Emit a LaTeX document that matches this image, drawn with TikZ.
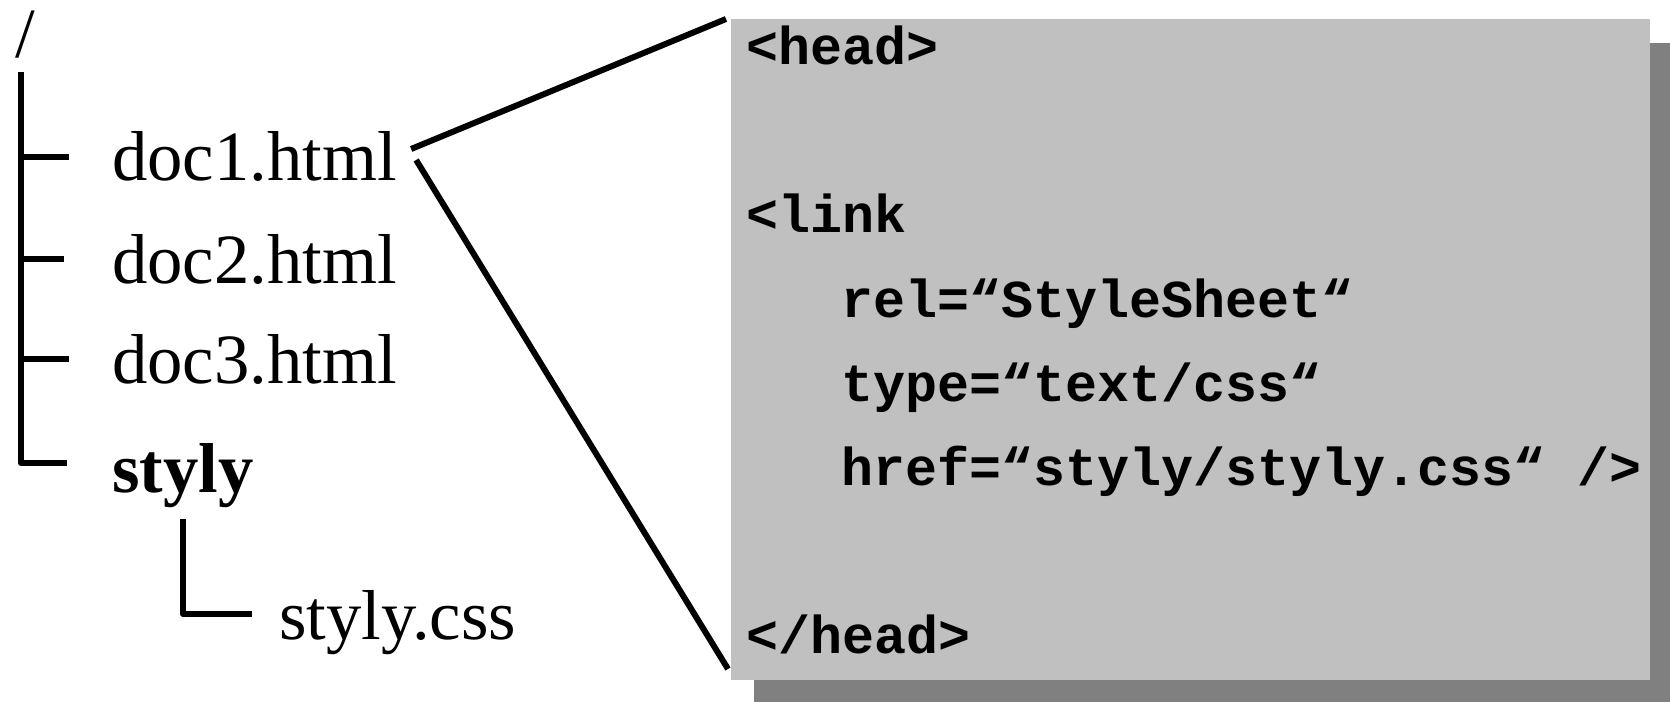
\documentclass[tikz,border=0pt]{standalone}
\usepackage{fontspec}
\setmainfont{Liberation Serif}
\setmonofont{Liberation Mono}
\usepackage{tikz}

\definecolor{boxgray}{RGB}{192,192,192}
\definecolor{shadowgray}{RGB}{128,128,128}
\tikzset{
  treeline/.style={line width=4.5pt, line join=round},
  fanline/.style={line width=4.5pt},
  filename/.style={anchor=base west, inner sep=0pt, font=\fontsize{53}{60}\selectfont},
  codeline/.style={anchor=base west, inner sep=0pt, font=\fontsize{40}{48}\selectfont\ttfamily\bfseries},
}

\begin{document}
\begin{tikzpicture}[x=0.75pt,y=0.75pt,yscale=-1,xscale=1]
\path[use as bounding box] (0,0) rectangle (1670,702);

%Shape: Rectangle (shadow)
\fill[shadowgray] (754,43) rectangle (1670,702);
%Shape: Rectangle (code box)
\fill[boxgray] (731,19) rectangle (1650,680);
\coordinate (boxtop) at (726,19);
\coordinate (boxbot) at (728,669);

% Text Node
\node (rootdir) [filename] at (15,58) {/};
% Text Node
\node (doc1) [filename] at (112,181) {doc1.html};
% Text Node
\node (doc2) [filename] at (112,284) {doc2.html};
% Text Node
\node (doc3) [filename] at (112,383) {doc3.html};
% Text Node
\node (stylydir) [filename] at (112,492) {\bfseries styly};
% Text Node
\node (stylycss) [filename] at (279,639) {styly.css};

% Text Node
\node (headopen) [codeline] at (746,65) {<head>};
% Text Node
\node (linkopen) [codeline] at (746,233) {<link};
% Text Node
\node (relattr) [codeline] at (841,317) {rel=“StyleSheet“};
% Text Node
\node (typeattr) [codeline] at (841,401) {type=“text/css“};
% Text Node
\node (hrefattr) [codeline] at (841,485) {href=“styly/styly.css“ />};
% Text Node
\node (headclose) [codeline] at (746,653) {</head>};

%Tree
\coordinate (treetop) at (21,72);
\coordinate (br1) at (69,157);
\coordinate (br2) at (64,259);
\coordinate (br3) at (69,359);
\coordinate (br4) at (67,463);
\draw[treeline] (treetop) |- (br4);
\draw[treeline] (treetop |- br1) -- (br1);
\draw[treeline] (treetop |- br2) -- (br2);
\draw[treeline] (treetop |- br3) -- (br3);
\coordinate (subtop) at (183,519);
\coordinate (subend) at (252,614);
\draw[treeline] (subtop) |- (subend);

%Fan lines
\coordinate (fanA) at ([shift={(14,-32)}]doc1.base east);
\coordinate (fanB) at ([shift={(19,-21)}]doc1.base east);
\draw[fanline] (fanA) -- (boxtop);
\draw[fanline] (fanB) -- (boxbot);

\end{tikzpicture}
\end{document}
